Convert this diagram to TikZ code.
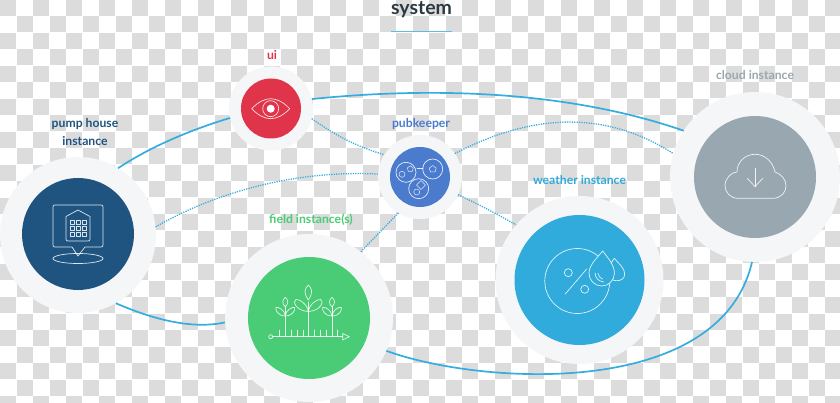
\documentclass[tikz,border=0pt]{standalone}
\usepackage{fontspec}
\setmainfont{Lato}
\definecolor{ring}{HTML}{F4F6F8}
\definecolor{chk}{HTML}{DCDCDC}
\definecolor{pumpc}{HTML}{1F5480}
\definecolor{uic}{HTML}{E0344A}
\definecolor{pubc}{HTML}{4A7BCD}
\definecolor{fieldc}{HTML}{4ACB76}
\definecolor{weathc}{HTML}{31ABDC}
\definecolor{cloudc}{HTML}{99A7B0}
\definecolor{linkc}{HTML}{35ADE0}
\definecolor{titlec}{HTML}{2B3A42}
\tikzset{
  ringnode/.style={circle,fill=ring,inner sep=0pt,outer sep=0pt,minimum size=#1},
  corenode/.style 2 args={circle,fill=#1,inner sep=0pt,outer sep=0pt,minimum size=#2},
  lab/.style={font=\bfseries\fontsize{12.2}{15}\selectfont,inner sep=0pt,anchor=center},
  solidlink/.style={draw=linkc,line width=1.7pt},
  dotlink/.style={draw=linkc,line width=1.3pt,dash pattern=on 1.2pt off 1.2pt},
  icon/.style={draw=white,draw opacity=.85,line width=.7pt,line join=round,line cap=round}
}
\begin{document}
\begin{tikzpicture}[x=1pt,y=-1pt]
\useasboundingbox (0,0) rectangle (840,403);
\fill[white] (0,0) rectangle (840,403);
% checkerboard
\foreach \c in {0,...,50}{\foreach \r in {0,...,24}{
  \pgfmathparse{int(mod(\c+\r,2))}
  \ifnum\pgfmathresult=0
    \fill[chk] ({\c*16.5},{\r*16.5}) rectangle ++(16,16);
  \fi
}}
% discs
\node[ringnode=156pt] (pump) at (78,235) {};
\node[corenode={pumpc}{112pt}] (pumpcore) at (78,234) {};
\node[ringnode=84pt] (ui) at (271,108.5) {};
\node[corenode={uic}{60pt}] (uicore) at (271,108.5) {};
\node[ringnode=84pt] (pub) at (420,177) {};
\node[corenode={pubc}{60pt}] (pubcore) at (420,177) {};
\node[ringnode=168pt] (field) at (309,318) {};
\node[corenode={fieldc}{122pt}] (fieldcore) at (309,318) {};
\node[ringnode=168pt] (weather) at (579.5,280) {};
\node[corenode={weathc}{130pt}] (weathercore) at (579.5,280) {};
\node[ringnode=170pt] (cloud) at (755,177) {};
\node[corenode={cloudc}{122pt}] (cloudcore) at (755,177) {};
% labels
\node[inner sep=0pt,anchor=base,text=titlec,font=\bfseries\fontsize{19.5}{22}\selectfont] (title) at (421.5,15) {system};
\coordinate (ruleL) at (391,31); \coordinate (ruleR) at (452,31);
\draw[draw=linkc!80,line width=.9pt] (ruleL) -- (ruleR);
\node[lab,text=uic] (uilab) at (272,55) {ui};
\node[lab,text=pubc] (publab) at (421,124) {pubkeeper};
\node[lab,text=pumpc] (pumplab1) at (85,124) {pump house};
\node[lab,text=pumpc] (pumplab2) at (85,141) {instance};
\node[lab,text=fieldc] (fieldlab) at (311,220) {field instance(s)};
\node[lab,text=weathc] (weatherlab) at (579.5,180) {weather instance};
\node[lab,text=cloudc] (cloudlab) at (755,75) {cloud instance};
% solid connectors
\draw[solidlink] (pump.59.5) .. controls (150,147) and (190,130) .. (ui.193);
\draw[solidlink] (ui.13) .. controls (420,88) and (560,88) .. (cloud.147.4);
\draw[solidlink] (pump.-61) .. controls (150,318) and (190,330) .. (field.183);
\draw[solidlink] (field.-23) .. controls (480,385) and (720,400) .. (cloud.-92);
% dotted connectors
\draw[dotlink] (ui.-14) .. controls (335,135) and (355,146) .. (pub.148);
\draw[dotlink] (pump.6.5) .. controls (220,190) and (300,170) .. (pub.176);
\draw[dotlink] (pub.-121) -- (field.52);
\draw[dotlink] (pub.-25) .. controls (480,205) and (495,213) .. (weather.139.5);
\draw[dotlink] (pub.34) .. controls (510,125) and (590,100) .. (cloud.164.5);
% pump icon
\draw[icon] (72,247) -- (55,247) .. controls (53.5,247) and (53,246.5) .. (53,245) -- (53,207) .. controls (53,205.5) and (53.5,205) .. (55,205) -- (101,205) .. controls (102.5,205) and (103,205.5) .. (103,207) -- (103,245) .. controls (103,246.5) and (102.5,247) .. (101,247) -- (85,247) -- (78,256) -- cycle;
\draw[icon] (78,258.5) ellipse [x radius=25,y radius=5];
\draw[icon] (78,210) -- (90,216.5) -- (90,239) .. controls (90,240.5) and (89.5,241) .. (88,241) -- (68,241) .. controls (66.5,241) and (66,240.5) .. (66,239) -- (66,216.5) -- cycle;
\foreach \a in {70,76,82}{\foreach \b in {220.5,226.5,232.5}{
  \draw[icon,line width=.6pt] (\a,\b) rectangle ++(4.3,4.3);
}}
% eye icon
\draw[icon] (251.7,108.7) .. controls (258,102) and (265,98.7) .. (270.7,98.7) .. controls (276.5,98.7) and (283.5,102) .. (289.7,108.7) .. controls (283.5,115.4) and (276.5,118.7) .. (270.7,118.7) .. controls (265,118.7) and (258,115.4) .. (251.7,108.7) -- cycle;
\draw[icon] (270.7,108.7) circle [radius=8];
\fill[white] (270.7,108.7) circle [radius=4];
% pubkeeper icon
\draw[icon] (406,172.3) circle [radius=10];
\draw[icon] (432.7,169) circle [radius=10];
\draw[icon] (418.7,188.7) circle [radius=10];
\draw[icon,line width=.5pt] (417,168.5) -- (423,168.5);
\draw[icon,line width=.5pt] (402,174.3) circle [radius=3];
\draw[icon,line width=.5pt] (410.3,165.8) -- (413.3,168) -- (412.2,171.5) -- (408.4,171.5) -- (407.3,168) -- cycle;
\draw[icon,line width=.5pt] (432.7,165.5) -- (436.2,168.2) -- (434.9,172) -- (430.5,172) -- (429.2,168.2) -- cycle;
\draw[icon,line width=.5pt] (421,180.5) -- (425.5,185) -- (421,189.5) -- (416.5,185) -- cycle;
\draw[icon,line width=.5pt] (416.7,192) circle [radius=3];
% field icon
\draw[icon] (272.7,336.7) -- (342.7,336.7);
\draw[icon] (270.7,336.7) circle [radius=2];
\draw[icon] (342.7,333.5) -- (349.3,336.7) -- (342.7,340) -- cycle;
\foreach \t in {279.3,290.7,296.7,302.7,314.3,320,326,337.3}{
  \draw[icon,line width=.4pt] (\t,336.7) -- (\t,330);
}
\draw[icon] (285.3,336.7) -- (285.3,306);
\draw[icon] (308.3,336.7) -- (308.3,302);
\draw[icon] (332,336.7) -- (332,306);
\draw[icon] (308.3,285) .. controls (312,289) and (313.5,292) .. (308.3,300) .. controls (303.1,292) and (304.6,289) .. (308.3,285) -- cycle;
\draw[icon] (285.3,297.3) .. controls (288.3,300) and (289,303) .. (285.3,307) .. controls (281.6,303) and (282.3,300) .. (285.3,297.3) -- cycle;
\draw[icon] (332,297.3) .. controls (335,300) and (335.7,303) .. (332,307) .. controls (328.3,303) and (329,300) .. (332,297.3) -- cycle;
\draw[icon] (308.3,311.5) .. controls (307,303) and (298,299) .. (296,299.5) .. controls (292,301) and (296,311) .. (308.3,311.5) -- cycle;
\draw[icon] (308.3,311.5) .. controls (309.6,303) and (318.6,299) .. (320.6,299.5) .. controls (324.6,301) and (320.6,311) .. (308.3,311.5) -- cycle;
\draw[icon] (285.3,316) .. controls (285,310) and (278,306.5) .. (276,307.5) .. controls (275,310) and (278,316) .. (285.3,316) -- cycle;
\draw[icon] (285.3,316) .. controls (285.6,310) and (292.6,306.5) .. (294.6,307.5) .. controls (295.6,310) and (292.6,316) .. (285.3,316) -- cycle;
\draw[icon] (332,316) .. controls (331.7,310) and (324.7,306.5) .. (322.7,307.5) .. controls (321.7,310) and (324.7,316) .. (332,316) -- cycle;
\draw[icon] (332,316) .. controls (332.3,310) and (339.3,306.5) .. (341.3,307.5) .. controls (342.3,310) and (339.3,316) .. (332,316) -- cycle;
% weather icon
\draw[icon] (577.3,281) circle [radius=32.5];
\draw[icon] (568.3,272.7) circle [radius=4];
\draw[icon] (584.7,289.3) circle [radius=4];
\draw[icon] (586.7,269) -- (565.3,294);
\draw[icon,fill=weathc] (614.3,258.3) .. controls (619,264) and (624.7,268) .. (624.7,274) .. controls (624.7,279) and (620.7,280.7) .. (616.7,280.7) .. controls (612.7,280.7) and (608.7,279) .. (608.7,274) .. controls (608.7,268) and (610,264) .. (614.3,258.3) -- cycle;
\draw[icon,fill=weathc] (602.7,251) .. controls (608,258) and (614.4,265) .. (614.4,273.3) .. controls (614.4,280.3) and (608.7,286) .. (601.7,286) .. controls (594.7,286) and (589,280.3) .. (589,273.3) .. controls (589,265) and (597,258) .. (602.7,251) -- cycle;
\draw[icon] (595,273) .. controls (595.5,278) and (598,281) .. (603.5,282);
\draw[icon] (598,273.5) .. controls (598.5,276) and (600,278.5) .. (602.5,279);
% cloud icon
\draw[icon] (738,198.3) .. controls (730,198.3) and (725,192) .. (725,185.5) .. controls (725,178) and (732,172) .. (737,172) .. controls (737,162) and (745,154.3) .. (755,154.3) .. controls (765,154.3) and (773,162) .. (775,172) .. controls (781,174) and (786,179) .. (786,186) .. controls (786,192) and (781,198.3) .. (773,198.3) -- cycle;
\draw[icon] (755,168.3) -- (755,186.7);
\draw[icon] (747.3,178.3) -- (755,186.7) -- (762.7,178.3);
\end{tikzpicture}
\end{document}
